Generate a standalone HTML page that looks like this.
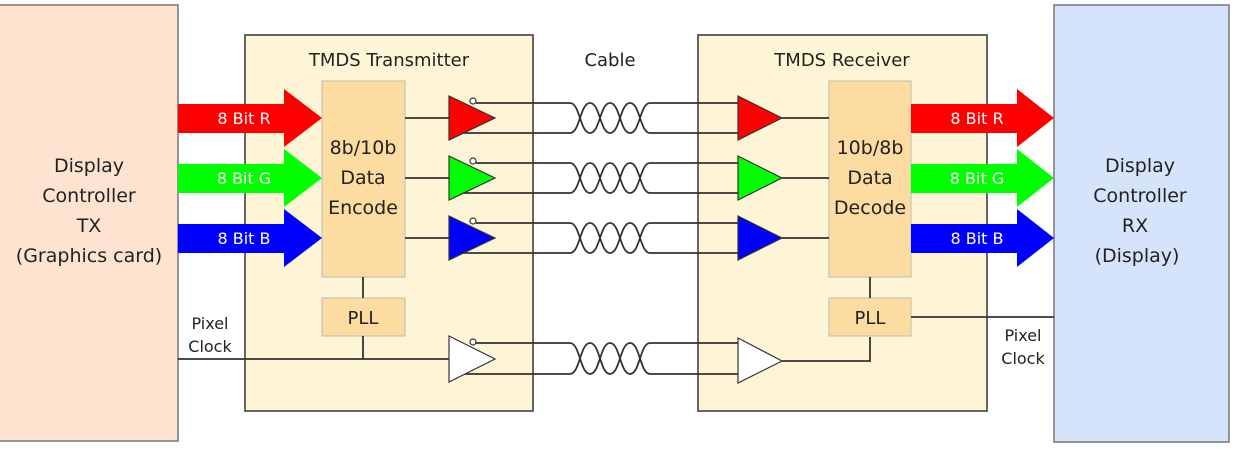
<!DOCTYPE html>
<html><head><meta charset="utf-8"><style>
html,body{margin:0;padding:0;background:#fff;}
svg{display:block;font-family:"DejaVu Sans","Liberation Sans",sans-serif;}
</style></head><body>
<svg width="1241" height="449" viewBox="0 0 1241 449" xmlns="http://www.w3.org/2000/svg">
<defs>
<g id="twist" fill="none" stroke="#333" stroke-width="1.8">
<path d="M0,0 C10,0 10,30 20,30 C30,30 30,0 40,0 C50,0 50,30 60,30 C70,30 70,0 80,0"/>
<path d="M0,30 C10,30 10,0 20,0 C30,0 30,30 40,30 C50,30 50,0 60,0 C70,0 70,30 80,30"/>
</g>
</defs>
<rect x="-2" y="5" width="180" height="436" fill="#fde3d0" stroke="#777" stroke-width="1.5"/>
<g font-size="19" fill="#222" text-anchor="middle">
<text x="89" y="172">Display</text><text x="89" y="202">Controller</text><text x="89" y="232">TX</text><text x="89" y="262">(Graphics card)</text>
</g>
<rect x="1054" y="5" width="175" height="437" fill="#d6e4fb" stroke="#777" stroke-width="1.5"/>
<g font-size="19" fill="#222" text-anchor="middle">
<text x="1140" y="172">Display</text><text x="1140" y="202">Controller</text><text x="1135" y="232">RX</text><text x="1137" y="262">(Display)</text>
</g>
<rect x="245" y="35" width="288" height="376" fill="#fef5d6" stroke="#555" stroke-width="1.8"/>
<text x="389" y="66" font-size="18" text-anchor="middle" fill="#222">TMDS Transmitter</text>
<rect x="322" y="81" width="83" height="196" fill="#fcdca0" stroke="#bbb"/>
<g font-size="19" fill="#222" text-anchor="middle"><text x="363" y="154">8b/10b</text><text x="363" y="184">Data</text><text x="363" y="214">Encode</text></g>
<rect x="322" y="298" width="83" height="38" fill="#fcdca0" stroke="#bbb"/>
<text x="363" y="324" font-size="18" text-anchor="middle" fill="#222">PLL</text>
<rect x="698" y="35" width="289" height="376" fill="#fef5d6" stroke="#555" stroke-width="1.8"/>
<text x="842" y="66" font-size="18" text-anchor="middle" fill="#222">TMDS Receiver</text>
<rect x="829" y="81" width="82" height="196" fill="#fcdca0" stroke="#bbb"/>
<g font-size="19" fill="#222" text-anchor="middle"><text x="870" y="154">10b/8b</text><text x="870" y="184">Data</text><text x="870" y="214">Decode</text></g>
<rect x="829" y="298" width="82" height="38" fill="#fcdca0" stroke="#bbb"/>
<text x="870" y="324" font-size="18" text-anchor="middle" fill="#222">PLL</text>
<text x="610" y="66" font-size="18" text-anchor="middle" fill="#222">Cable</text>
<g>
<polygon points="178,104 284,104 284,89 322,118 284,147 284,133 178,133" fill="#f00"/>
<polygon points="178,164 284,164 284,149 322,178 284,207 284,193 178,193" fill="#0f0"/>
<polygon points="178,224 284,224 284,209 322,238 284,267 284,253 178,253" fill="#00f"/>
<polygon points="911,104 1017,104 1017,89 1054,118 1017,147 1017,133 911,133" fill="#f00"/>
<polygon points="911,164 1017,164 1017,149 1054,178 1017,207 1017,193 911,193" fill="#0f0"/>
<polygon points="911,224 1017,224 1017,209 1054,238 1017,267 1017,253 911,253" fill="#00f"/>
</g>
<g font-size="16" fill="#fff" text-anchor="middle">
<text x="244" y="124">8 Bit R</text><text x="244" y="184">8 Bit G</text><text x="244" y="244">8 Bit B</text>
<text x="977" y="124">8 Bit R</text><text x="977" y="184">8 Bit G</text><text x="977" y="244">8 Bit B</text>
</g>
<g stroke="#333" stroke-width="1.8" fill="none">
<path d="M405,118H449M405,178H449M405,238H449"/>
<path d="M476,103H570M462,133H570M476,163H570M462,193H570M476,223H570M462,253H570M476,343H570M462,374H570"/>
<path d="M650,103H738M650,133H738M650,163H738M650,193H738M650,223H738M650,253H738M650,343H738M650,374H738"/>
<path d="M782,118H829M782,178H829M782,238H829"/>
<path d="M363,277V298M870,277V298M363,336V359M178,359H449M870,337V361H782M911,317H1054"/>
</g>
<use href="#twist" x="570" y="103"/><use href="#twist" x="570" y="163"/><use href="#twist" x="570" y="223"/>
<g transform="translate(570,343) scale(1,1.03)"><use href="#twist"/></g>
<g stroke="#333" stroke-width="1.2">
<polygon points="449,96 495,118 449,140" fill="#f00"/>
<polygon points="449,156 495,178 449,200" fill="#0f0"/>
<polygon points="449,216 495,238 449,260" fill="#00f"/>
<polygon points="449,336 495,359 449,382" fill="#fff"/>
<polygon points="738,96 782,118 738,140" fill="#f00"/>
<polygon points="738,156 782,178 738,200" fill="#0f0"/>
<polygon points="738,216 782,238 738,260" fill="#00f"/>
<polygon points="738,338 782,361 738,383" fill="#fff"/>
<circle cx="473" cy="101" r="3" fill="#fff"/><circle cx="473" cy="161" r="3" fill="#fff"/>
<circle cx="473" cy="221" r="3" fill="#fff"/><circle cx="473" cy="342" r="3" fill="#fff"/>
</g>
<g font-size="16" fill="#222" text-anchor="middle">
<text x="210" y="329">Pixel</text><text x="210" y="352">Clock</text>
<text x="1023" y="341">Pixel</text><text x="1023" y="364">Clock</text>
</g>
</svg>
</body></html>
